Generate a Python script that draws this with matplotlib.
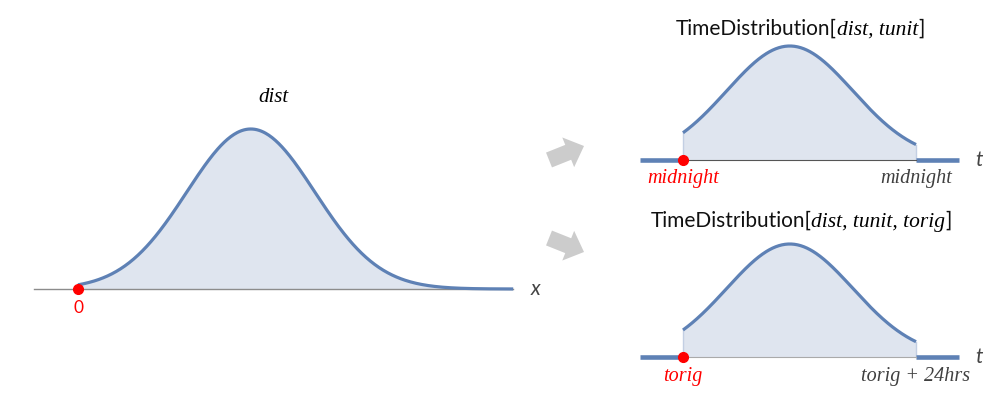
import numpy as np
import matplotlib
matplotlib.use("Agg")
import matplotlib.pyplot as plt
import matplotlib.patches as mpatches
from matplotlib.offsetbox import TextArea, HPacker, AnnotationBbox

W, H = 986, 400

# left panel: the distribution "dist" (units of its own x axis)
dist_mu = 2.7
dist_sigma = 1.0
dist_xmax = 6.8
dist_axis_start = -0.69

# right panels: the same distribution put on a 24 hour window
tunit_hours = 24
time_mu = 11.0
time_sigma = 6.5
tail_hours = 4.4

title_top = [("TimeDistribution[", "sans"), ("dist, tunit", "ital"), ("]", "sans")]
title_bot = [("TimeDistribution[", "sans"), ("dist, tunit, torig", "ital"), ("]", "sans")]
labels_top = ["midnight", "midnight"]
labels_bot = ["torig", "torig + 24hrs"]

BLUE = "#5e81b5"
FILL = "#dfe5ef"
EDGE = "#c3cfe3"
RED = "#ff0000"
SANS = "Lato"
SERIF = "Liberation Serif"


def shape(x, mu, sigma):
    return np.exp(-0.5 * ((x - mu) / sigma) ** 2)


def ax_px(x0, y0, x1, y1):
    ax = fig.add_axes([x0 / W, 1 - y1 / H, (x1 - x0) / W, (y1 - y0) / H])
    ax.axis("off")
    return ax


fig = plt.figure(figsize=(W / 100, H / 100), dpi=100)
fig.patch.set_facecolor("white")

# overlay in pixel units for arrows and titles
ov = ax_px(0, 0, W, H)
ov.set_xlim(0, W)
ov.set_ylim(H, 0)

for (x, y, dx, dy) in [(549, 160, 35, -14), (549, 238, 35, 14)]:
    ov.add_patch(mpatches.FancyArrow(x, y, dx, dy, width=16, head_width=32,
                                     head_length=17, length_includes_head=True,
                                     color="#cccccc", lw=0))


def mixed_title(parts, xy):
    boxes = []
    for s, kind in parts:
        if kind == "sans":
            tp = dict(fontfamily=SANS, fontsize=15, color="#111111")
        else:
            tp = dict(fontfamily=SERIF, fontstyle="italic", fontsize=15.5, color="black")
        boxes.append(TextArea(s, textprops=tp))
    pack = HPacker(children=boxes, align="baseline", pad=0, sep=0)
    ov.add_artist(AnnotationBbox(pack, xy, xycoords="data", frameon=False,
                                 box_alignment=(0.5, 0.5)))


mixed_title(title_top, (800, 29))
mixed_title(title_bot, (801, 221))

# ---- left panel
px_unit, py_unit, base_y, x0_px = 64.0, 160.0, 289.0, 78.0
ax = ax_px(20, 70, 560, 330)
ax.set_xlim((20 - x0_px) / px_unit, (560 - x0_px) / px_unit)
ax.set_ylim(-(330 - base_y) / py_unit, (base_y - 70) / py_unit)
xs = np.linspace(0, dist_xmax, 400)
ys = shape(xs, dist_mu, dist_sigma)
ax.fill_between(xs, 0, ys, color=FILL, lw=0)
ax.plot([dist_axis_start, dist_xmax], [0, 0], color="#8c8c8c", lw=1.0, zorder=2)
ax.plot(xs, ys, color=BLUE, lw=2.3, zorder=3, solid_capstyle="butt")
ax.plot([0], [0], "o", color=RED, ms=7, zorder=4)
ax.annotate("0", (0, 0), xytext=(0, -19), textcoords="offset pixels",
            ha="center", va="center", color=RED, fontsize=12.5, fontfamily=SANS)
ax.annotate("x", (dist_xmax, 0), xytext=(22, 0), textcoords="offset pixels",
            ha="center", va="center", color="#444444", fontsize=15,
            fontfamily=SANS, fontstyle="italic")
ax.text((dist_axis_start + dist_xmax) / 2, (base_y - 97) / py_unit, "dist",
        ha="center", va="center", fontsize=15, fontfamily=SERIF, fontstyle="italic")


# ---- right panels
def time_panel(top, base, peak, axis_color, labels):
    hx = (916 - 683) / tunit_hours
    hy = base - peak
    a = ax_px(630, top, 990, top + 170)
    a.set_xlim((630 - 683) / hx, (990 - 683) / hx)
    a.set_ylim(-(top + 170 - base) / hy, (base - top) / hy)
    t = np.linspace(0, tunit_hours, 300)
    y = shape(t, time_mu, time_sigma)
    a.fill_between(t, 0, y, color=FILL, lw=0)
    a.plot([0, 0], [0, y[0]], color=EDGE, lw=1)
    a.plot([tunit_hours] * 2, [0, y[-1]], color=EDGE, lw=1)
    a.plot([-tail_hours, 0], [0, 0], color=BLUE, lw=3.3, solid_capstyle="butt")
    a.plot([tunit_hours, tunit_hours + tail_hours], [0, 0], color=BLUE, lw=3.3,
           solid_capstyle="butt")
    a.plot([0, tunit_hours], [0, 0], color=axis_color, lw=0.8)
    a.plot(t, y, color=BLUE, lw=2.3, solid_capstyle="butt")
    a.plot([0], [0], "o", color=RED, ms=7, zorder=4)
    a.annotate(labels[0], (0, 0), xytext=(0, -19), textcoords="offset pixels",
               ha="center", va="center", color=RED, fontsize=14.5,
               fontfamily=SERIF, fontstyle="italic")
    a.annotate(labels[1], (tunit_hours, 0), xytext=(0, -19), textcoords="offset pixels",
               ha="center", va="center", color="#404040", fontsize=14.5,
               fontfamily=SERIF, fontstyle="italic")
    a.annotate("t", (tunit_hours + tail_hours, 0), xytext=(20, 0),
               textcoords="offset pixels", ha="center", va="center",
               color="#444444", fontsize=15, fontfamily=SANS, fontstyle="italic")


time_panel(20, 160, 46, "#555555", labels_top)
time_panel(215, 357, 244, "#aaaaaa", labels_bot)

fig.savefig("out.png", dpi=100, facecolor="white")
